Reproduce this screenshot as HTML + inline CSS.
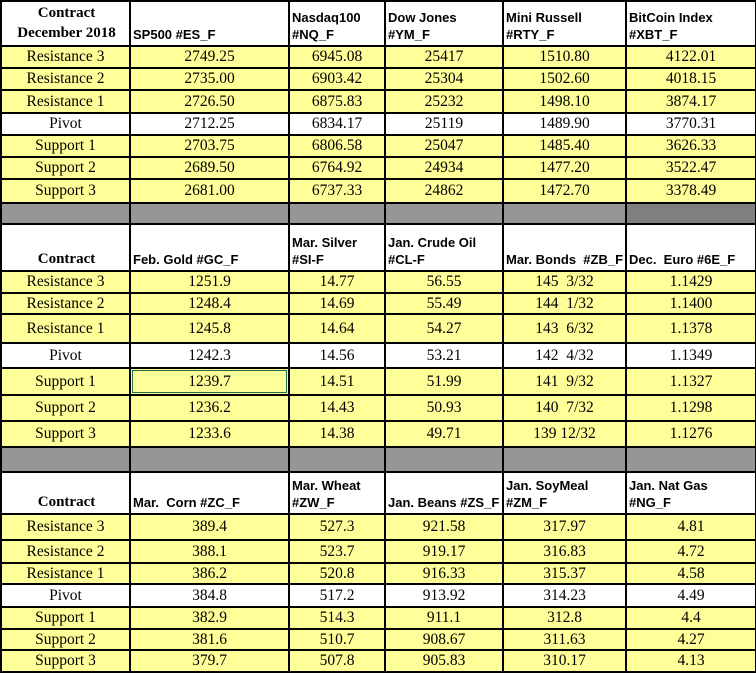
<!DOCTYPE html>
<html><head><style>
html,body{margin:0;padding:0;background:#fff;width:756px;height:671px;overflow:hidden}
table{border-collapse:collapse;table-layout:fixed;position:absolute;left:0;top:0;width:755px}
td{border:2px solid #000;padding:0;font-family:"Liberation Serif",serif;font-size:15.5px;text-align:center;background:#ffff99;white-space:pre;overflow:hidden;line-height:16px}
tr.w td{background:#fff}
tr.h td{background:#fff;font-family:"Liberation Sans",sans-serif;font-weight:bold;font-size:13px;text-align:left;vertical-align:bottom;padding:0 0 2px 2px;line-height:17px}
tr.h td:first-child{font-family:"Liberation Serif",serif;font-size:15px;text-align:center}
tr.g td{background:#969696}
td.sel{outline:1px solid #217346;outline-offset:-3px}
</style></head><body>
<table>
<colgroup><col style="width:129px"><col style="width:159px"><col style="width:96px"><col style="width:118px"><col style="width:123px"><col style="width:130px"></colgroup>
<tr class="h" style="height:45px"><td style="vertical-align:middle;line-height:20px">Contract
December 2018</td><td>SP500 #ES_F</td><td>Nasdaq100
#NQ_F</td><td>Dow Jones
#YM_F</td><td>Mini Russell
#RTY_F</td><td>BitCoin Index
#XBT_F</td></tr>
<tr style="height:22px"><td>Resistance 3</td><td>2749.25</td><td>6945.08</td><td>25417</td><td>1510.80</td><td>4122.01</td></tr>
<tr style="height:22px"><td>Resistance 2</td><td>2735.00</td><td>6903.42</td><td>25304</td><td>1502.60</td><td>4018.15</td></tr>
<tr style="height:23px"><td>Resistance 1</td><td>2726.50</td><td>6875.83</td><td>25232</td><td>1498.10</td><td>3874.17</td></tr>
<tr class="w" style="height:22px"><td>Pivot</td><td>2712.25</td><td>6834.17</td><td>25119</td><td>1489.90</td><td>3770.31</td></tr>
<tr style="height:22px"><td>Support 1</td><td>2703.75</td><td>6806.58</td><td>25047</td><td>1485.40</td><td>3626.33</td></tr>
<tr style="height:22px"><td>Support 2</td><td>2689.50</td><td>6764.92</td><td>24934</td><td>1477.20</td><td>3522.47</td></tr>
<tr style="height:24px"><td>Support 3</td><td>2681.00</td><td>6737.33</td><td>24862</td><td>1472.70</td><td>3378.49</td></tr>
<tr class="g" style="height:21px"><td></td><td></td><td></td><td></td><td></td><td style="background:#7f7f7f"></td></tr>
<tr class="h" style="height:47px"><td>Contract</td><td>Feb. Gold #GC_F</td><td>Mar. Silver
#SI-F</td><td>Jan. Crude Oil
#CL-F</td><td>Mar. Bonds  #ZB_F</td><td>Dec.  Euro #6E_F</td></tr>
<tr style="height:22px"><td>Resistance 3</td><td>1251.9</td><td>14.77</td><td>56.55</td><td>145  3/32</td><td>1.1429</td></tr>
<tr style="height:21px"><td>Resistance 2</td><td>1248.4</td><td>14.69</td><td>55.49</td><td>144  1/32</td><td>1.1400</td></tr>
<tr style="height:29px"><td>Resistance 1</td><td>1245.8</td><td>14.64</td><td>54.27</td><td>143  6/32</td><td>1.1378</td></tr>
<tr class="w" style="height:25px"><td>Pivot</td><td>1242.3</td><td>14.56</td><td>53.21</td><td>142  4/32</td><td>1.1349</td></tr>
<tr style="height:27px"><td>Support 1</td><td class="sel">1239.7</td><td>14.51</td><td>51.99</td><td>141  9/32</td><td>1.1327</td></tr>
<tr style="height:26px"><td>Support 2</td><td>1236.2</td><td>14.43</td><td>50.93</td><td>140  7/32</td><td>1.1298</td></tr>
<tr style="height:26px"><td>Support 3</td><td>1233.6</td><td>14.38</td><td>49.71</td><td>139 12/32</td><td>1.1276</td></tr>
<tr class="g" style="height:25px"><td></td><td></td><td></td><td></td><td></td><td></td></tr>
<tr class="h" style="height:42px"><td>Contract</td><td>Mar.  Corn #ZC_F</td><td>Mar. Wheat
#ZW_F</td><td>Jan. Beans #ZS_F</td><td>Jan. SoyMeal
#ZM_F</td><td>Jan. Nat Gas
#NG_F</td></tr>
<tr style="height:26px"><td>Resistance 3</td><td>389.4</td><td>527.3</td><td>921.58</td><td>317.97</td><td>4.81</td></tr>
<tr style="height:23px"><td>Resistance 2</td><td>388.1</td><td>523.7</td><td>919.17</td><td>316.83</td><td>4.72</td></tr>
<tr style="height:21px"><td>Resistance 1</td><td>386.2</td><td>520.8</td><td>916.33</td><td>315.37</td><td>4.58</td></tr>
<tr class="w" style="height:23px"><td>Pivot</td><td>384.8</td><td>517.2</td><td>913.92</td><td>314.23</td><td>4.49</td></tr>
<tr style="height:22px"><td>Support 1</td><td>382.9</td><td>514.3</td><td>911.1</td><td>312.8</td><td>4.4</td></tr>
<tr style="height:21px"><td>Support 2</td><td>381.6</td><td>510.7</td><td>908.67</td><td>311.63</td><td>4.27</td></tr>
<tr style="height:22px"><td>Support 3</td><td>379.7</td><td>507.8</td><td>905.83</td><td>310.17</td><td>4.13</td></tr>
</table>
</body></html>
